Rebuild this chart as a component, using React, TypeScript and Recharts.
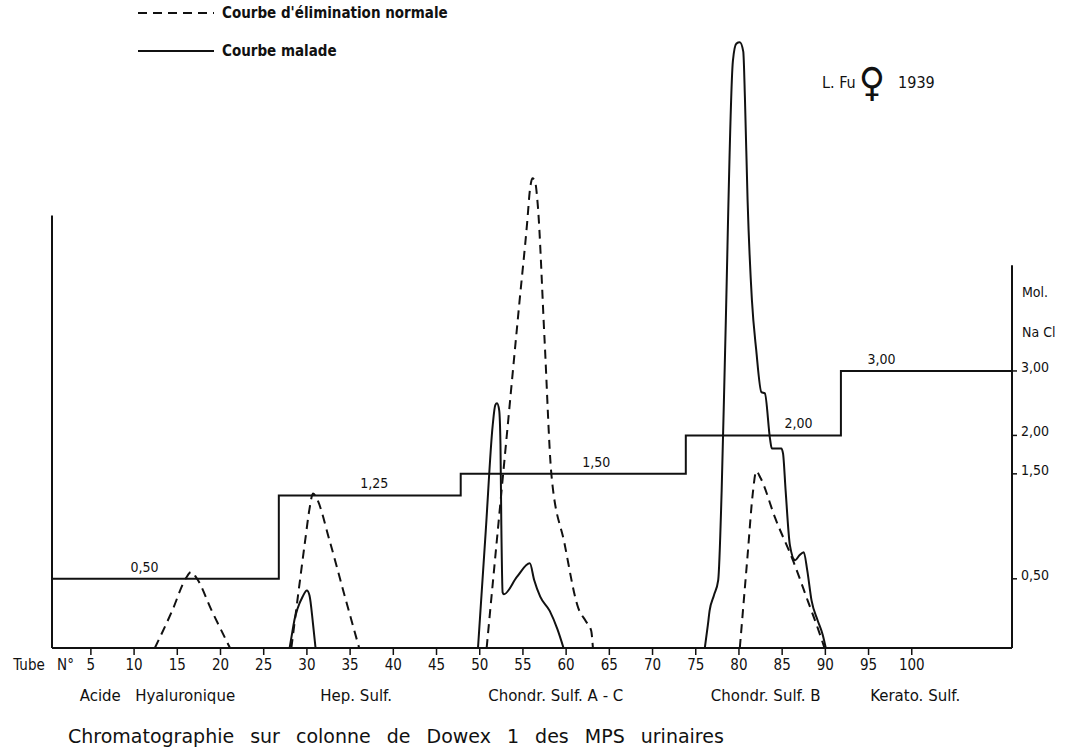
import React from 'react';
import { LineChart, Line, XAxis, YAxis, ReferenceLine, ReferenceDot } from 'recharts';

const FONT = "'DejaVu Sans Condensed', 'DejaVu Sans', sans-serif";
const WIDE = "'DejaVu Sans', sans-serif";

// tube numbers on the x axis
const tubeTicks = [5, 10, 15, 20, 25, 30, 35, 40, 45, 50, 55, 60, 65, 70, 75, 80, 85, 90, 95, 100];

// fractions named under the axis, centred on these tubes
const fractionNames = ['Acide   Hyaluronique', 'Hep. Sulf.', 'Chondr. Sulf. A - C', 'Chondr. Sulf. B', 'Kerato. Sulf.'];
const fractionTubes = [12.7, 35.7, 58.8, 83.1, 100.4];

// NaCl gradient (mol), stepped
const naclTicks = [0.5, 1.25, 1.5, 2, 3];
const gradientTubes = [0.5, 26.75, 47.8, 73.85, 91.8, 111.6];
const gradientMol = [0.5, 1.25, 1.5, 2, 3, 3];

// courbe d'élimination normale, one list per peak: [tube, value]
const normalHA = [[12.4, 0], [14.4, 6], [16.0, 11.3], [16.6, 12.3], [17.2, 11.4], [19.0, 6], [21.1, 0]];
const normalHS = [[28.2, 0], [28.9, 7.7], [29.8, 17.4], [30.3, 22.5], [30.7, 25], [31.1, 24.3], [32.6, 17.5], [34.2, 9.3], [36.05, 0]];
const normalCSAC = [[50.8, 0], [52.7, 28], [54.6, 56], [55.5, 69], [55.8, 74], [56.1, 76], [56.4, 75.5], [56.7, 72], [57.5, 50], [58.3, 28], [59.8, 17], [61.4, 6.5], [62.3, 4.3], [62.9, 2.8], [63.1, 0]];
const normalCSB = [[80.1, 0], [81.0, 15], [81.6, 25], [82.0, 28.6], [82.5, 27.5], [84.2, 21], [86.3, 14], [88.0, 7.5], [89.3, 2.5], [89.9, 0]];

// courbe malade
const sickHS = [[28.0, 0], [28.3, 2.5], [28.6, 4.8], [28.9, 6.3], [29.5, 8.3], [30.0, 9.3], [30.3, 8.5], [30.7, 4], [31.0, 0]];
const sickCSAC = [[49.8, 0], [50.7, 19], [51.5, 36], [51.8, 39.3], [52.0, 39.6], [52.25, 38.5], [52.4, 33], [52.5, 20], [52.65, 9], [52.8, 8.7], [54.3, 11.5], [55.8, 13.7], [56.3, 11], [57.0, 8.3], [58.1, 6], [59.0, 3], [59.7, 0]];
const sickCSB = [[76.05, 0], [76.4, 3.7], [76.6, 6], [77.1, 8.5], [77.6, 11], [78.0, 25.5], [78.4, 48.2], [79.3, 95], [79.7, 97.8], [80.1, 98], [80.5, 96.5], [80.7, 88.6], [81.0, 72.4], [81.5, 56.3], [82.0, 48.2], [82.6, 41.4], [83.0, 41.2], [83.6, 33.8], [83.8, 32.3], [84.9, 32.3], [85.1, 31.5], [85.4, 25.5], [85.9, 16.6], [86.5, 14.2], [87.0, 15], [87.5, 15.5], [87.9, 12.6], [88.4, 7.7], [89.1, 4.5], [89.7, 2.1], [90.05, 0]];

const toPoints = (peaks: number[][][]) =>
  peaks.flatMap((peak, i) => [
    ...(i > 0 ? [{ t: peak[0][0] - 0.01, v: null }] : []),
    ...peak.map(([t, v]) => ({ t, v })),
  ]);

const normalData = toPoints([normalHA, normalHS, normalCSAC, normalCSB]);
const sickData = toPoints([sickHS, sickCSAC, sickCSB]);
const gradientData = gradientTubes.map((t, i) => ({ t, mol: gradientMol[i] }));

const fmt = (v: number) => v.toFixed(2).replace('.', ',');

const TubeTick = (props: any) => {
  const { x, y, payload } = props;
  return (
    <g>
      <text x={x} y={y} dy="0.71em" textAnchor="middle" fontSize={15} fontFamily={FONT} fill="#111">
        {payload.value}
      </text>
      {payload.value === 5 && (
        <text x={x - 17} y={y} dy="0.71em" textAnchor="end" fontSize={15} fontFamily={FONT} fill="#111" wordSpacing={8}>
          Tube N°
        </text>
      )}
    </g>
  );
};

const FractionTick = (props: any) => {
  const { x, y, payload } = props;
  const i = fractionTubes.indexOf(payload.value);
  return (
    <text x={x} y={y} dy="0.71em" textAnchor="middle" fontSize={15} fontFamily={WIDE} fill="#111" style={{ whiteSpace: 'pre' }}>
      {fractionNames[i]}
    </text>
  );
};

const MolTick = (props: any) => {
  const { x, y, payload } = props;
  return (
    <text x={x} y={y - 4} dy="0.35em" textAnchor="start" fontSize={14} fontFamily={FONT} fill="#111">
      {fmt(payload.value)}
    </text>
  );
};

const stepLabel = (value: string) => ({ value, position: 'top' as const, offset: 7, fill: '#111', fontSize: 14, fontFamily: FONT });

export default function App() {
  return (
    <div style={{ position: 'absolute', left: 0, top: 0, width: 1079, height: 754, background: '#fff', fontFamily: FONT, color: '#111' }}>
      <LineChart width={1079} height={754} margin={{ top: 30, right: 7, bottom: 36, left: 52 }}>
        <XAxis
          dataKey="t"
          type="number"
          domain={[0.5, 111.6]}
          allowDataOverflow
          ticks={tubeTicks}
          tick={<TubeTick />}
          tickSize={7}
          tickMargin={4}
          height={40}
          axisLine={{ stroke: '#111', strokeWidth: 2 }}
          tickLine={{ stroke: '#111', strokeWidth: 1.5 }}
        />
        <XAxis
          xAxisId="frac"
          dataKey="t"
          type="number"
          domain={[0.5, 111.6]}
          allowDataOverflow
          ticks={fractionTubes}
          tick={<FractionTick />}
          tickSize={0}
          tickMargin={2}
          height={30}
          axisLine={false}
          tickLine={false}
        />
        <YAxis yAxisId="abs" type="number" domain={[0, 100]} allowDataOverflow hide />
        <YAxis
          yAxisId="nacl"
          orientation="right"
          type="number"
          scale="sqrt"
          domain={[0.1339, 11.651]}
          allowDataOverflow
          ticks={naclTicks}
          tick={<MolTick />}
          tickSize={5}
          tickMargin={4}
          width={60}
          axisLine={false}
          tickLine={{ stroke: '#111', strokeWidth: 1.5 }}
        />
        <ReferenceLine
          yAxisId="abs"
          segment={[{ x: 0.5, y: 0 }, { x: 0.5, y: 70 }]}
          stroke="#111"
          strokeWidth={2}
        />
        <ReferenceLine
          yAxisId="nacl"
          segment={[{ x: 111.6, y: 0.1339 }, { x: 111.6, y: 5.08 }]}
          stroke="#111"
          strokeWidth={2}
        />
        <Line
          yAxisId="nacl"
          data={gradientData}
          dataKey="mol"
          type="stepAfter"
          stroke="#111"
          strokeWidth={2}
          dot={false}
          isAnimationActive={false}
        />
        <Line
          yAxisId="abs"
          data={normalData}
          dataKey="v"
          type="monotone"
          stroke="#111"
          strokeWidth={2}
          strokeDasharray="9 6"
          dot={false}
          connectNulls={false}
          isAnimationActive={false}
        />
        <Line
          yAxisId="abs"
          data={sickData}
          dataKey="v"
          type="monotone"
          stroke="#111"
          strokeWidth={2}
          dot={false}
          connectNulls={false}
          isAnimationActive={false}
        />
        <ReferenceDot yAxisId="nacl" x={11.2} y={0.5} r={0} fill="none" stroke="none" label={stepLabel('0,50')} />
        <ReferenceDot yAxisId="nacl" x={37.8} y={1.25} r={0} fill="none" stroke="none" label={stepLabel('1,25')} />
        <ReferenceDot yAxisId="nacl" x={63.5} y={1.5} r={0} fill="none" stroke="none" label={stepLabel('1,50')} />
        <ReferenceDot yAxisId="nacl" x={86.9} y={2} r={0} fill="none" stroke="none" label={stepLabel('2,00')} />
        <ReferenceDot yAxisId="nacl" x={96.5} y={3} r={0} fill="none" stroke="none" label={stepLabel('3,00')} />
      </LineChart>

      {/* legend */}
      <div style={{ position: 'absolute', left: 138, top: 3, fontSize: 15, fontWeight: 'bold', lineHeight: '20px' }}>
        <div style={{ display: 'flex', alignItems: 'center', height: 20 }}>
          <svg width={76} height={4} style={{ marginRight: 8 }}>
            <line x1={0} y1={2} x2={76} y2={2} stroke="#111" strokeWidth={2} strokeDasharray="9 6" />
          </svg>
          Courbe d'élimination normale
        </div>
        <div style={{ display: 'flex', alignItems: 'center', height: 20, marginTop: 18 }}>
          <svg width={76} height={4} style={{ marginRight: 8 }}>
            <line x1={0} y1={2} x2={76} y2={2} stroke="#111" strokeWidth={2} />
          </svg>
          Courbe malade
        </div>
      </div>

      {/* patient */}
      <div style={{ position: 'absolute', left: 822, top: 62, fontSize: 16, display: 'flex', alignItems: 'center' }}>
        <span style={{ marginRight: 3 }}>L. Fu</span>
        <span style={{ fontSize: 40, margin: '0 13px 0 0', lineHeight: '40px' }}>♀</span>
        <span>1939</span>
      </div>

      {/* right axis title */}
      <div style={{ position: 'absolute', left: 1022, top: 284, fontSize: 14 }}>Mol.</div>
      <div style={{ position: 'absolute', left: 1022, top: 324, fontSize: 14 }}>Na Cl</div>

      {/* caption */}
      <div style={{ position: 'absolute', left: 68, top: 725, fontSize: 19, wordSpacing: 10, fontFamily: WIDE, whiteSpace: 'nowrap' }}>
        Chromatographie sur colonne de Dowex 1 des MPS urinaires
      </div>
    </div>
  );
}
